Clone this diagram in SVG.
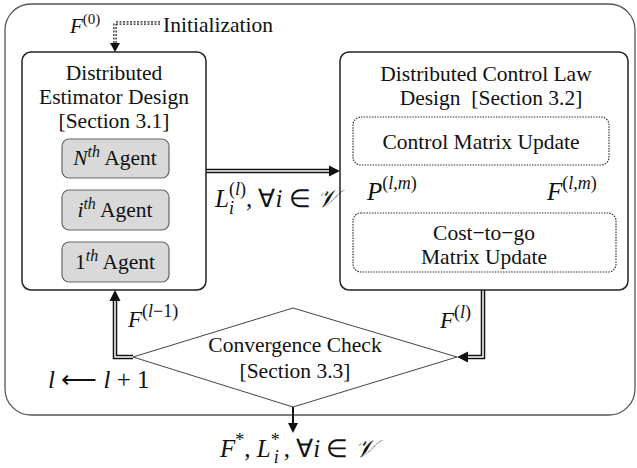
<svg xmlns="http://www.w3.org/2000/svg" width="637" height="468" viewBox="0 0 637 468">
<style>
text{font-family:"Liberation Serif","Times New Roman",serif;fill:#111;}
.t{font-size:21.5px;text-anchor:middle;}
.m{font-size:25px;font-style:italic;}
.ms{font-size:23px;font-style:italic;}
.n{font-style:normal;}
.sup{font-size:18px;}
.ssup{font-size:16px;}
.box{fill:#fff;stroke:#222;stroke-width:1.5;}
.agent{fill:#d9d9d9;stroke:#666;stroke-width:1.2;}
.dotbox{fill:none;stroke:#333;stroke-width:1.2;stroke-dasharray:1.5 1.2;}
.dbl{fill:none;stroke:#111;stroke-width:4.5;}
.dblin{fill:none;stroke:#fff;stroke-width:1.5;}
.dash{fill:none;stroke:#222;stroke-width:3.5;stroke-dasharray:2 1.5;}
.dashin{fill:none;stroke:#fff;stroke-width:1;}
.head{fill:#111;}
</style>
<rect x="5" y="4" width="630" height="411" rx="26" ry="26" fill="#fff" stroke="#555" stroke-width="1.3"/>

<g id="connectors">
  <path class="dash" d="M160,23 H115 V44"/>
  <path class="dashin" d="M160,23 H115 V44"/>
  <polygon class="head" points="115,52 110,43 120,43"/>
  <path class="dbl" d="M206,171 H332"/>
  <path class="dblin" d="M206,171 H332"/>
  <polygon class="head" points="340,171 329,165.5 329,176.5"/>
  <path class="dash" d="M448,213 V174"/>
  <path class="dashin" d="M448,213 V174"/>
  <polygon class="head" points="448,165 443,175 453,175"/>
  <path class="dash" d="M530,165 V204"/>
  <path class="dashin" d="M530,165 V204"/>
  <polygon class="head" points="530,213 525,203 535,203"/>
  <path class="dbl" d="M483,290 V357 H466"/>
  <path class="dblin" d="M483,290 V357 H466"/>
  <polygon class="head" points="457,357 468,351.5 468,362.5"/>
  <path class="dbl" d="M133,357 H115 V299"/>
  <path class="dblin" d="M133,357 H115 V299"/>
  <polygon class="head" points="115,290 109.5,301 120.5,301"/>
  <line x1="293" y1="407" x2="293" y2="424" stroke="#111" stroke-width="2"/>
  <polygon class="head" points="293,433 288,423 298,423"/>
  <line x1="115" y1="180" x2="115" y2="189" stroke="#333" stroke-width="1.5" stroke-dasharray="1.5 2.5"/>
  <line x1="115" y1="232" x2="115" y2="241" stroke="#333" stroke-width="1.5" stroke-dasharray="1.5 2.5"/>
</g>

<g id="init">
  <text x="70" y="33" font-size="21" font-style="italic">F<tspan class="n" font-size="15" dy="-9">(0)</tspan></text>
  <text class="t" x="218" y="32">Initialization</text>
</g>

<g id="estimator">
  <rect class="box" x="22" y="52" width="184" height="238" rx="9"/>
  <text class="t" x="114" y="80">Distributed</text>
  <text class="t" x="114" y="104">Estimator Design</text>
  <text class="t" x="114" y="128">[Section 3.1]</text>
</g>
<g id="agentN">
  <rect class="agent" x="62" y="139" width="107" height="39" rx="7"/>
  <text class="t" x="115" y="165"><tspan font-style="italic">N</tspan><tspan class="ssup" font-style="italic" dy="-8">th</tspan><tspan dy="8"> Agent</tspan></text>
</g>
<g id="agentI">
  <rect class="agent" x="62" y="190" width="107" height="40" rx="7"/>
  <text class="t" x="115" y="217"><tspan font-style="italic">i</tspan><tspan class="ssup" font-style="italic" dy="-8">th</tspan><tspan dy="8"> Agent</tspan></text>
</g>
<g id="agent1">
  <rect class="agent" x="62" y="242" width="107" height="40" rx="7"/>
  <text class="t" x="115" y="269">1<tspan class="ssup" font-style="italic" dy="-8">th</tspan><tspan dy="8"> Agent</tspan></text>
</g>

<g id="control">
  <rect class="box" x="340" y="52" width="288" height="238" rx="9"/>
  <text class="t" x="486" y="81">Distributed Control Law</text>
  <text class="t" x="491" y="105" xml:space="preserve">Design  [Section 3.2]</text>
</g>
<g id="controlMatrix">
  <rect class="dotbox" x="353" y="117" width="256" height="48" rx="8"/>
  <text class="t" x="481" y="149">Control Matrix Update</text>
</g>
<g id="costToGo">
  <rect class="dotbox" x="353" y="213" width="263" height="59" rx="8"/>
  <text class="t" x="484" y="240">Cost−to−go</text>
  <text class="t" x="484" y="264">Matrix Update</text>
</g>

<g id="convergence">
  <polygon points="133,357 293,308 457,357 293,407" fill="#fff" stroke="#444" stroke-width="1"/>
  <text class="t" x="295" y="352">Convergence Check</text>
  <text class="t" x="295" y="378">[Section 3.3]</text>
</g>

<g id="labels">
  <text class="m" x="215" y="207">L<tspan class="sup n" dy="-12">(<tspan font-style="italic">l</tspan>)</tspan><tspan class="sup" dx="-17" dy="19">i</tspan><tspan class="n" dx="12" dy="-7">, ∀</tspan>i<tspan class="n"> ∈ </tspan>𝒱</text>
  <text class="m" x="367" y="200">P<tspan class="sup n" dy="-11">(<tspan font-style="italic">l,m</tspan>)</tspan></text>
  <text class="m" x="547" y="200">F<tspan class="sup n" dy="-11">(<tspan font-style="italic">l,m</tspan>)</tspan></text>
  <text class="ms" x="128" y="327">F<tspan class="sup n" dy="-10">(<tspan font-style="italic">l</tspan>−1)</tspan></text>
  <text class="ms" x="440" y="328">F<tspan class="sup n" dy="-10">(<tspan font-style="italic">l</tspan>)</tspan></text>
  <text x="48" y="388" font-size="25" font-style="italic">l<tspan class="n"> ⟵ </tspan>l<tspan class="n"> + 1</tspan></text>
  <text class="m" x="220" y="457">F<tspan class="sup n" dy="-11">*</tspan><tspan class="n" dy="11">, </tspan>L<tspan class="sup n" dy="-11">*</tspan><tspan class="sup" dx="-6" dy="17">i</tspan><tspan class="n" dx="5" dy="-6">, ∀</tspan>i<tspan class="n"> ∈ </tspan>𝒱</text>
</g>
</svg>
